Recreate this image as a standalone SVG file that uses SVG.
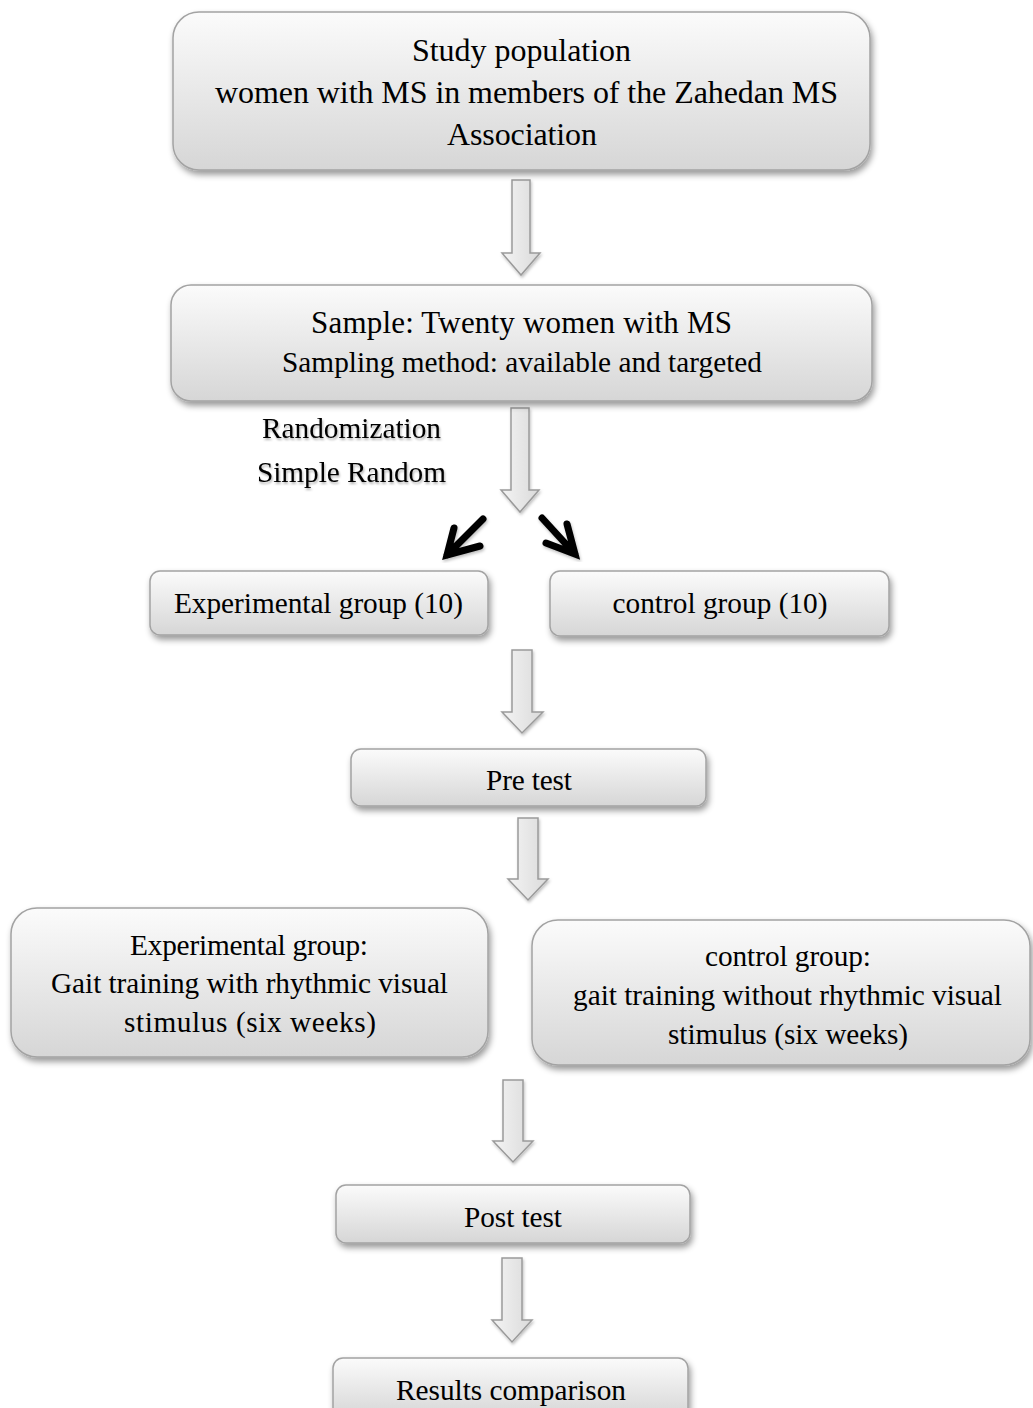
<svg xmlns="http://www.w3.org/2000/svg" width="1033" height="1408" viewBox="0 0 1033 1408">
<defs>
<linearGradient id="boxg" x1="0" y1="0" x2="0" y2="1">
<stop offset="0" stop-color="#fbfbfb"/>
<stop offset="1" stop-color="#d6d6d6"/>
</linearGradient>
<linearGradient id="arrg" x1="0" y1="0" x2="1" y2="0">
<stop offset="0" stop-color="#f4f4f4"/>
<stop offset="1" stop-color="#dadada"/>
</linearGradient>
<filter id="sh" x="-10%" y="-10%" width="120%" height="130%">
<feDropShadow dx="2" dy="4" stdDeviation="3" flood-color="#000" flood-opacity="0.4"/>
</filter>
<filter id="ash" x="-30%" y="-10%" width="160%" height="130%">
<feDropShadow dx="1" dy="2" stdDeviation="1.5" flood-color="#000" flood-opacity="0.25"/>
</filter>
<filter id="tsh" x="-5%" y="-20%" width="110%" height="140%">
<feDropShadow dx="1" dy="2" stdDeviation="1" flood-color="#000" flood-opacity="0.3"/>
</filter>
</defs>
<style>
.box{fill:url(#boxg);stroke:#a3a3a3;stroke-width:1.5;filter:url(#sh)}
.t{font-family:"Liberation Serif","Times New Roman",serif;font-size:29.3px;fill:#000;text-anchor:middle}
.big{font-size:32px}
.bar{fill:url(#arrg);stroke:#9a9a9a;stroke-width:1.5;filter:url(#ash)}
.blk{fill:none;stroke:#000;stroke-width:7;stroke-linecap:round;stroke-linejoin:miter;filter:url(#ash)}
</style>

<g id="connectors">
<path class="bar" d="M512,180 H530 V253 H540 L521,275 L502,253 H512 Z"/>
<path class="bar" d="M511,408 H529 V490 H539 L520,512 L501,490 H511 Z"/>
<path class="bar" d="M512,650 H532 V712 H543 L522,733 L502,712 H512 Z"/>
<path class="bar" d="M518,818 H538 V879 H548 L528,900 L508,879 H518 Z"/>
<path class="bar" d="M503,1080 H523 V1141 H533 L513,1162 L493,1141 H503 Z"/>
<path class="bar" d="M502,1258 H522 V1320 H532 L512,1342 L492,1320 H502 Z"/>
<path class="blk" d="M483,519 L447,555 M454,528 L447,555 L480,546"/>
<path class="blk" d="M542,518 L575,554 M567,524 L575,554 L546,543"/>
</g>

<g id="n-population">
<rect class="box" x="173" y="12" width="697" height="158" rx="26"/>
<text class="t big" x="521.5" y="61" textLength="219">Study population</text>
<text class="t big" x="526.5" y="103" textLength="623">women with MS in members of the Zahedan MS</text>
<text class="t big" x="522" y="145" textLength="150">Association</text>
</g>

<g id="n-sample">
<rect class="box" x="171" y="285" width="701" height="116" rx="20"/>
<text class="t" style="font-size:31px" x="521.5" y="333" textLength="421">Sample: Twenty women with MS</text>
<text class="t" x="522" y="372" textLength="480">Sampling method: available and targeted</text>
</g>

<g id="n-randomization" filter="url(#tsh)">
<text class="t" x="351.5" y="438" textLength="179">Randomization</text>
<text class="t" x="351.5" y="482" textLength="189">Simple Random</text>
</g>

<g id="n-exp10">
<rect class="box" x="150" y="571" width="338" height="64" rx="10"/>
<text class="t" x="318.5" y="613" textLength="289">Experimental group (10)</text>
</g>

<g id="n-ctrl10">
<rect class="box" x="550" y="571" width="339" height="65" rx="10"/>
<text class="t" x="720" y="613" textLength="215">control group (10)</text>
</g>

<g id="n-pretest">
<rect class="box" x="351" y="749" width="355" height="57" rx="10"/>
<text class="t" x="529" y="790" textLength="86">Pre test</text>
</g>

<g id="n-exp">
<rect class="box" x="11" y="908" width="477" height="149" rx="26"/>
<text class="t" x="249" y="955" textLength="238">Experimental group:</text>
<text class="t" x="249.5" y="993" textLength="397">Gait training with rhythmic visual</text>
<text class="t" x="250" y="1032" textLength="252">stimulus (six weeks)</text>
</g>

<g id="n-ctrl">
<rect class="box" x="532" y="920" width="498" height="145" rx="26"/>
<text class="t" x="788" y="966" textLength="166">control group:</text>
<text class="t" x="787.5" y="1005" textLength="429">gait training without rhythmic visual</text>
<text class="t" x="788" y="1044" textLength="240">stimulus (six weeks)</text>
</g>

<g id="n-posttest">
<rect class="box" x="336" y="1185" width="354" height="58" rx="10"/>
<text class="t" x="513" y="1227" textLength="98">Post test</text>
</g>

<g id="n-results">
<rect class="box" x="333" y="1358" width="355" height="60" rx="10"/>
<text class="t" x="511" y="1400" textLength="230">Results comparison</text>
</g>
</svg>
